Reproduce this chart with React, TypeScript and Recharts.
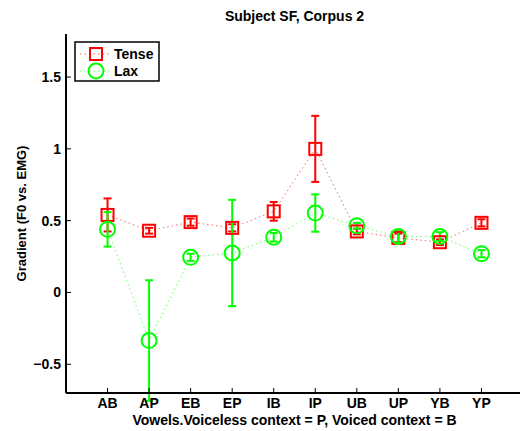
import { LineChart, Line, XAxis, YAxis, ErrorBar, Legend } from "recharts";

const vowels = ["AB", "AP", "EB", "EP", "IB", "IP", "UB", "UP", "YB", "YP"];
const tense = [0.54, 0.43, 0.49, 0.45, 0.565, 1.0, 0.425, 0.38, 0.35, 0.485];
const tenseErr = [0.115, 0.02, 0.025, 0.025, 0.065, 0.23, 0.02, 0.03, 0.02, 0.025];
const lax = [0.44, -0.335, 0.245, 0.275, 0.385, 0.553, 0.465, 0.39, 0.39, 0.27];
const laxErr = [0.12, 0.42, 0.025, 0.37, 0.03, 0.13, 0.02, 0.045, 0.03, 0.025];
const xTicks = [1, 2, 3, 4, 5, 6, 7, 8, 9, 10];
const yTicks = [-0.5, 0, 0.5, 1, 1.5];

const data = vowels.map((v, i) => ({
  x: i + 1,
  name: v,
  tense: tense[i],
  tenseErr: tenseErr[i],
  lax: lax[i],
  laxErr: laxErr[i],
}));

const FONT = "'Liberation Sans', Arial, Helvetica, sans-serif";
const FS = 14;
const RED = "#ff0000";
const GREEN = "#00ff00";

const fmtY = (v: number) => (v < 0 ? `\u2212${Math.abs(v)}` : `${v}`);

function BottomTick({ x, y, payload }: any) {
  return (
    <g>
      <line x1={x} y1={y} x2={x} y2={y - 5} stroke="#000" />
      <text x={x} y={y + 15} textAnchor="middle" fontFamily={FONT} fontWeight="bold" fontSize={FS} fill="#000">
        {vowels[payload.value - 1]}
      </text>
    </g>
  );
}

function TopTick({ x, y }: any) {
  return <line x1={x} y1={y} x2={x} y2={y + 5} stroke="#000" />;
}

function LeftTick({ x, y, payload }: any) {
  return (
    <g>
      <line x1={x} y1={y} x2={x + 5} y2={y} stroke="#000" />
      <text x={x - 5} y={y + 5} textAnchor="end" fontFamily={FONT} fontWeight="bold" fontSize={FS} fill="#000">
        {fmtY(payload.value)}
      </text>
    </g>
  );
}

function RightTick({ x, y }: any) {
  return <line x1={x} y1={y} x2={x - 5} y2={y} stroke="#000" />;
}

function SquareDot({ cx, cy }: any) {
  if (cx == null || cy == null) return null;
  return <rect x={cx - 6} y={cy - 6} width={12} height={12} fill="none" stroke={RED} strokeWidth={2} />;
}

function CircleDot({ cx, cy }: any) {
  if (cx == null || cy == null) return null;
  return <circle cx={cx} cy={cy} r={7.5} fill="none" stroke={GREEN} strokeWidth={2} />;
}

function YLabel({ viewBox }: any) {
  const cx = 21;
  const cy = viewBox ? viewBox.y + viewBox.height / 2 : 213;
  return (
    <text x={cx} y={cy} transform={`rotate(-90 ${cx} ${cy})`} textAnchor="middle" dominantBaseline="central"
      fontFamily={FONT} fontWeight="bold" fontSize={13} fill="#000">
      Gradient (F0 vs. EMG)
    </text>
  );
}

function XLabel({ viewBox }: any) {
  const cx = viewBox ? viewBox.x + viewBox.width / 2 : 295;
  return (
    <text x={cx} y={425} textAnchor="middle" fontFamily={FONT} fontWeight="bold" fontSize={FS} fill="#000">
      Vowels.Voiceless context = P, Voiced context = B
    </text>
  );
}

function LegendBox() {
  return (
    <svg width={86} height={41}>
      <rect x={1} y={1} width={84} height={39} fill="#fff" stroke="#000" strokeWidth={1.5} />
      <line x1={6} y1={13} x2={36} y2={13} stroke={RED} strokeDasharray="1.5 3" strokeOpacity={0.6} />
      <rect x={16} y={7} width={12} height={12} fill="none" stroke={RED} strokeWidth={2} />
      <text x={40} y={18} fontFamily={FONT} fontWeight="bold" fontSize={FS}>Tense</text>
      <line x1={6} y1={30} x2={36} y2={30} stroke={GREEN} strokeDasharray="1.5 3" strokeOpacity={0.6} />
      <circle cx={22} cy={30} r={7.5} fill="none" stroke={GREEN} strokeWidth={2} />
      <text x={40} y={35} fontFamily={FONT} fontWeight="bold" fontSize={FS}>Lax</text>
    </svg>
  );
}

export default function App() {
  return (
    <div style={{ position: "absolute", left: 0, top: 0, width: 520, height: 431, overflow: "hidden", background: "#fff" }}>
      <div style={{ position: "absolute", left: 66, top: 8, width: 457, textAlign: "center", fontFamily: FONT, fontWeight: "bold", fontSize: FS, lineHeight: "17px" }}>
        Subject SF, Corpus 2
      </div>
      <LineChart width={540} height={431} data={data} margin={{ top: 34, right: 17, bottom: 0, left: 0 }}>
        <XAxis xAxisId="b" dataKey="x" type="number" domain={[0, 11]} ticks={xTicks} height={38}
          tickSize={0} tickMargin={0} tick={<BottomTick />} tickLine={false}
          axisLine={{ stroke: "#000", strokeWidth: 2 }} label={<XLabel />} />
        <XAxis xAxisId="t" orientation="top" dataKey="x" type="number" domain={[0, 11]} ticks={xTicks} height={0}
          tickSize={0} tickMargin={0} tick={<TopTick />} tickLine={false}
          axisLine={{ stroke: "#000", strokeWidth: 2 }} />
        <YAxis yAxisId="l" type="number" domain={[-0.7, 1.8]} ticks={yTicks} width={66} allowDataOverflow
          tickSize={0} tickMargin={0} tick={<LeftTick />} tickLine={false}
          axisLine={{ stroke: "#000", strokeWidth: 2 }} label={<YLabel />} />
        <YAxis yAxisId="r" orientation="right" type="number" domain={[-0.7, 1.8]} ticks={yTicks} width={0} allowDataOverflow
          tickSize={0} tickMargin={0} tick={<RightTick />} tickLine={false}
          axisLine={{ stroke: "#000", strokeWidth: 2 }} />
        <Legend layout="vertical" align="center" verticalAlign="middle"
          wrapperStyle={{ left: 74, top: 41, width: 86, height: 41 }} content={<LegendBox />} />
        <Line xAxisId="b" yAxisId="l" type="linear" dataKey="tense" name="Tense" stroke={RED} strokeWidth={1}
          strokeDasharray="1.5 3" strokeOpacity={0.6} dot={<SquareDot />} activeDot={false} isAnimationActive={false}>
          <ErrorBar dataKey="tenseErr" direction="y" width={4} stroke={RED} strokeWidth={2} />
        </Line>
        <Line xAxisId="b" yAxisId="l" type="linear" dataKey="lax" name="Lax" stroke={GREEN} strokeWidth={1}
          strokeDasharray="1.5 3" strokeOpacity={0.6} dot={<CircleDot />} activeDot={false} isAnimationActive={false}>
          <ErrorBar dataKey="laxErr" direction="y" width={4} stroke={GREEN} strokeWidth={2} />
        </Line>
      </LineChart>
    </div>
  );
}
